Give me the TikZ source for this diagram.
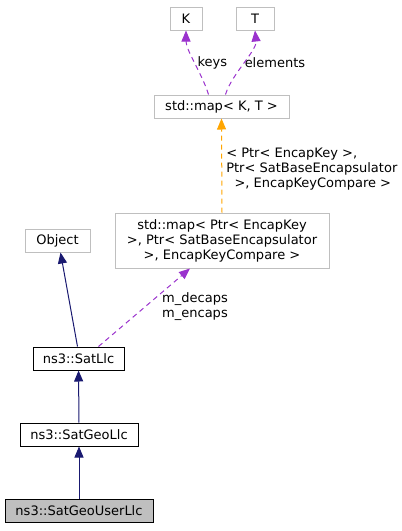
\documentclass[tikz,border=0pt]{standalone}
\usepackage{fontspec}
\setmainfont{DejaVu Sans}
\usetikzlibrary{arrows.meta}
\definecolor{edgeblue}{HTML}{191970}
\definecolor{edgepurple}{HTML}{9A32CD}
\definecolor{edgeorange}{HTML}{FFA500}
\definecolor{boxgray}{HTML}{BFBFBF}
\begin{document}
\begin{tikzpicture}[x=1pt,y=-1pt,font=\fontsize{13}{15}\selectfont,line width=1pt,
  cls/.style={draw=boxgray,fill=white,inner sep=2pt,minimum height=23pt},
  mine/.style={draw=black,fill=white,inner sep=2pt,minimum height=23pt},
  inherit/.style={edgeblue,-{Triangle[length=11pt,width=9pt]}},
  uses/.style={edgepurple,dash pattern=on 5pt off 4pt,-{Triangle[length=11pt,width=9pt]}},
  tmpl/.style={edgeorange,dash pattern=on 5pt off 4pt,-{Triangle[length=11pt,width=9pt]}},
  lbl/.style={text=black,inner sep=1pt}]
\useasboundingbox (0,0) rectangle (402,531);
\node[cls,minimum width=32pt] (K) at (186,18.5) {K};
\node[cls,minimum width=38pt] (T) at (255,18.5) {T};
\node[cls,minimum width=135pt] (kvmap) at (221.5,106.5) {std::map< K, T >};
\node[cls,minimum width=214pt,minimum height=55pt,align=center] (encmap) at (222,240.5)
  {std::map< Ptr< EncapKey\\ >, Ptr< SatBaseEncapsulator\\ >, EncapKeyCompare >};
\node[cls,minimum width=65pt] (object) at (57.5,240.5) {Object};
\node[mine,minimum width=91pt] (llc) at (78.5,358.5) {ns3::SatLlc};
\node[mine,minimum width=118pt] (geollc) at (79,434.5) {ns3::SatGeoLlc};
\node[mine,fill=boxgray,minimum width=148pt] (userllc) at (79,510.5) {ns3::SatGeoUserLlc};
% template members
\draw[uses] ([xshift=-13pt]kvmap.north) .. controls +(-6,-20) and +(0,20) .. (K.south)
  node[lbl,pos=0.5,right=1pt] {keys};
\draw[uses] ([xshift=4pt]kvmap.north) .. controls +(6,-20) and +(2,20) .. (T.south)
  node[lbl,pos=0.5,right=0pt] {elements};
\draw[tmpl] (encmap.north) -- (kvmap.south)
  node[lbl,pos=0.46,right=3pt,align=left] {< Ptr< EncapKey >,\\Ptr< SatBaseEncapsulator\\\ \ >, EncapKeyCompare >};
\draw[uses] ([xshift=20pt]llc.north) -- ([xshift=-32pt]encmap.south);
\node[lbl,align=center] (members) at (195,307) {m\_decaps\\m\_encaps};
% inheritance
\draw[inherit] ([xshift=-1pt]llc.north) -- ([xshift=3pt]object.south);
\draw[inherit] (geollc) -- (llc);
\draw[inherit] (userllc) -- (geollc);
\end{tikzpicture}
\end{document}
